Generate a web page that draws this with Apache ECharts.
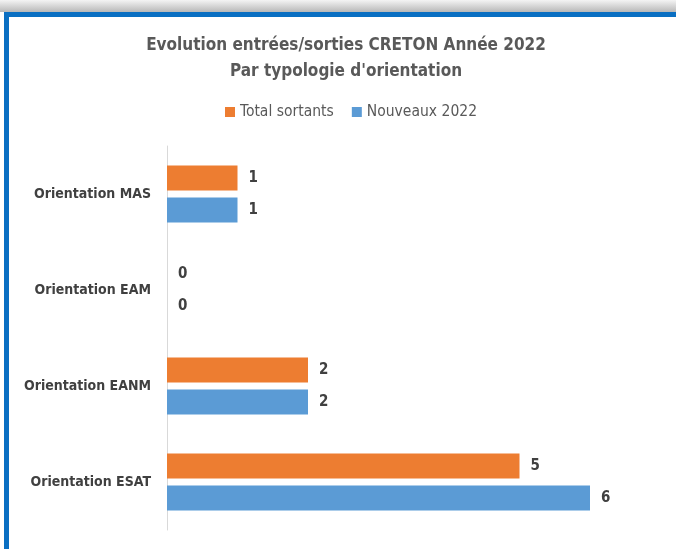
<!DOCTYPE html>
<html>
<head>
<meta charset="utf-8">
<script src="https://cdn.jsdelivr.net/npm/echarts@6/dist/echarts.min.js"></script>
<style>
  html, body { margin: 0; padding: 0; background: #fff; }
  #shadow { position: absolute; left: 0; top: 0; width: 676px; height: 12px;
    background: linear-gradient(to bottom, #f4f4f4, #b8b8b8); }
  #frame { position: absolute; left: 4px; top: 12px; width: 700px; height: 560px;
    border-top: 5px solid #0a6fc2; border-left: 5px solid #0a6fc2; background: #fff; }
  #chart { position: absolute; left: 0; top: 0; width: 676px; height: 549px; }
</style>
</head>
<body>
<div id="shadow"></div>
<div id="frame"></div>
<div id="chart"></div>
<script>
var categories = ["Orientation MAS", "Orientation EAM", "Orientation EANM", "Orientation ESAT"];
var totalSortants = [1, 0, 2, 5];
var nouveaux2022 = [1, 0, 2, 6];
var seriesNames = ["Total sortants", "Nouveaux 2022"];

var font = "'DejaVu Sans Condensed', 'Liberation Sans', sans-serif";

var labelStyle = {
  show: true,
  position: "right",
  distance: 11,
  color: "#404040",
  fontWeight: "bold",
  fontSize: 15,
  fontFamily: font
};

var chart = echarts.init(document.getElementById("chart"));
chart.setOption({
  animation: false,
  color: ["#ed7d31", "#5b9bd5"],
  title: {
    text: "Evolution entrées/sorties CRETON Année 2022\nPar typologie d'orientation",
    left: 341,
    textAlign: "center",
    top: 28,
    textStyle: {
      color: "#595959",
      fontSize: 17,
      fontWeight: "bold",
      lineHeight: 26,
      fontFamily: font
    }
  },
  legend: {
    top: 99,
    left: 220,
    itemWidth: 10,
    itemHeight: 10,
    itemGap: 18,
    icon: "rect",
    textStyle: { color: "#595959", fontSize: 15.5, fontFamily: font },
    data: seriesNames
  },
  grid: { left: 167, top: 146, width: 423, height: 384, containLabel: false },
  xAxis: {
    type: "value",
    min: 0,
    max: 6,
    show: false
  },
  yAxis: {
    type: "category",
    inverse: true,
    data: categories,
    axisLine: { show: true, lineStyle: { color: "#d9d9d9", width: 1 } },
    axisTick: { show: false },
    axisLabel: {
      color: "#404040",
      fontSize: 14,
      fontWeight: "bold",
      margin: 16,
      fontFamily: font
    }
  },
  series: [
    {
      name: seriesNames[0],
      type: "bar",
      data: totalSortants,
      barWidth: 25,
      barGap: "28%",
      label: labelStyle
    },
    {
      name: seriesNames[1],
      type: "bar",
      data: nouveaux2022,
      barWidth: 25,
      barGap: "28%",
      label: labelStyle
    }
  ]
});
</script>
</body>
</html>
